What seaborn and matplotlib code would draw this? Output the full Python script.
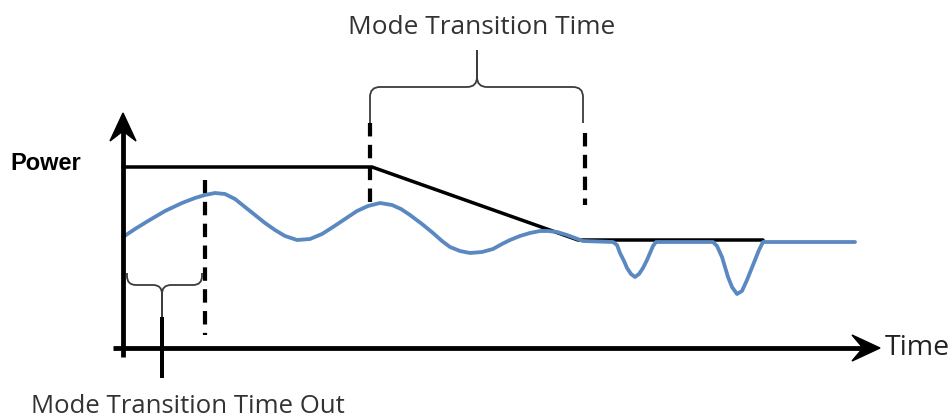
import numpy as np
import pandas as pd
import matplotlib
matplotlib.use("Agg")
import matplotlib.pyplot as plt
from matplotlib.path import Path
from matplotlib.patches import PathPatch, Polygon
import seaborn as sns

# ---- data (time, power) ----
actual_t = [0, 12, 25, 42, 59, 72, 82, 92, 102, 112, 122, 132, 142, 152, 162, 174,
            187, 199, 210, 222, 234, 245, 257, 269, 278, 287, 299, 310, 319, 327,
            337, 347, 359, 370, 379, 387, 397, 407, 417, 425, 434, 444, 452, 460,
            490, 494, 497, 501, 504, 508, 512, 516, 520, 524, 527, 530, 533,
            590, 594, 599, 602, 605, 609, 614, 619, 624, 628, 632, 636, 640, 732]
actual_p = [111, 119, 127, 137, 145, 150, 153, 155, 154, 149, 141, 133, 125, 118, 112, 108,
            109, 114, 121, 129, 137, 142, 145, 143, 139, 133, 124, 115, 107, 101,
            97, 95, 96, 99, 104, 108, 112, 115, 117, 117, 116, 113, 110, 107,
            106, 103, 95, 87, 80, 74, 71, 74, 80, 88, 95, 102, 106,
            106, 102, 91, 81, 71, 61, 54, 57, 68, 78, 88, 98, 106, 106]

limit_t = [0, 249, 455, 640]
limit_p = [181, 181, 108, 108]

marker_t = [82, 247, 462]          # dashed markers
marker_top = [168, 225, 215]
marker_bottom = [13, 143, 143]

title_top = "Mode Transition Time"
title_bottom = "Mode Transition Time Out"
y_label = "Power"
x_label = "Time"

# ---- figure ----
sns.set_theme(style="white")
plt.rcParams["font.family"] = ["Open Sans", "DejaVu Sans"]

fig = plt.figure(figsize=(9.53, 4.18), dpi=100)
ax = fig.add_axes([0, 0, 1, 1])
ax.set_xlim(-123, 830)
ax.set_ylim(-70, 348)
ax.axis("off")

blue = "#5A88C0"
px = 0.72  # points per pixel

# limit (black) line
df_lim = pd.DataFrame({"t": limit_t, "p": limit_p})
sns.lineplot(data=df_lim, x="t", y="p", ax=ax, color="black", lw=3.5 * px,
             sort=False, estimator=None, zorder=3)

# actual power (blue)
df_act = pd.DataFrame({"t": actual_t, "p": actual_p})
sns.lineplot(data=df_act, x="t", y="p", ax=ax, color=blue, lw=3.8 * px,
             sort=False, estimator=None, zorder=4)
ax.lines[-1].set_solid_joinstyle("round")
ax.lines[-1].set_solid_capstyle("round")

# dashed markers
for t, a, b in zip(marker_t, marker_top, marker_bottom):
    ax.plot([t, t], [a, b], color="black", lw=4.2 * px, ls=(0, (3.2, 2.0)),
            dash_capstyle="butt", zorder=2)

# axes with arrows
ax.plot([0, 0], [-9, 222], color="black", lw=4.8 * px, zorder=5, solid_capstyle="butt")
ax.plot([-10, 745], [0, 0], color="black", lw=4.8 * px, zorder=5, solid_capstyle="butt")
ax.add_patch(Polygon([(0, 235), (13, 207), (0, 217), (-13, 207)],
                     closed=True, color="black", zorder=6))
ax.add_patch(Polygon([(757, 0), (729, 13), (740, 0), (729, -13)],
                     closed=True, color="black", zorder=6))


def half_brace(x0, xc, yb, ybar, ytip, r):
    s = 1 if ybar > yb else -1   # direction of the arms (up or down)
    d = 1 if xc > x0 else -1
    verts = [(x0, yb), (x0, ybar - s * r), (x0, ybar), (x0 + d * r, ybar),
             (xc - d * r, ybar), (xc, ybar), (xc, ybar + s * r), (xc, ytip)]
    codes = [Path.MOVETO, Path.LINETO, Path.CURVE3, Path.CURVE3,
             Path.LINETO, Path.CURVE3, Path.CURVE3, Path.LINETO]
    return Path(verts, codes)


def brace(x0, x1, xc, yb, ybar, ytip, r, color="#3c3c3c", lw=1.3):
    for xa in (x0, x1):
        ax.add_patch(PathPatch(half_brace(xa, xc, yb, ybar, ytip, r),
                               fill=False, edgecolor=color, lw=lw, zorder=3))


# top brace
brace(247, 460, 354, 225, 261, 298, 10)
# bottom brace
brace(4, 79, 39, 75, 63, 31, 9)
ax.plot([39, 39], [31, -30], color="black", lw=4 * px, zorder=5, solid_capstyle="butt")

# texts
ax.text(359, 321, title_top, ha="center", va="center", fontsize=18.9, color="#333333")
ax.text(65, -65, title_bottom, ha="center", va="baseline", fontsize=18.5, color="#333333")
ax.text(-113, 185, y_label, ha="left", va="center", fontsize=17, fontweight="bold",
        family=["Liberation Sans", "DejaVu Sans"], color="black")
ax.text(762, 0, x_label, ha="left", va="center", fontsize=20.5, color="#222222")

fig.savefig("out.png", dpi=100, facecolor="white")
